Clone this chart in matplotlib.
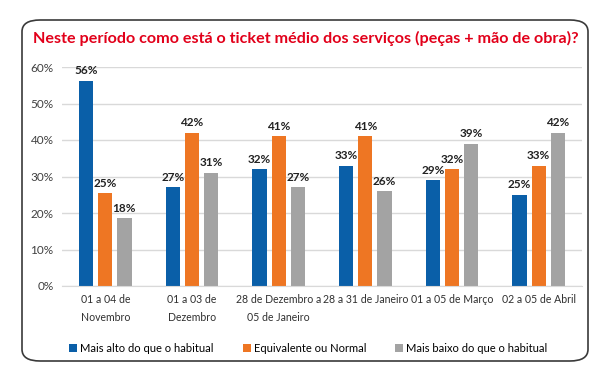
import matplotlib.pyplot as plt
import numpy as np
from matplotlib.patches import FancyBboxPatch

plt.rcParams['font.family'] = ['Lato', 'DejaVu Sans']

categories = ["01 a 04 de\nNovembro", "01 a 03 de\nDezembro", "28 de Dezembro a\n05 de Janeiro",
              "28 a 31 de Janeiro", "01 a 05 de Março", "02 a 05 de Abril"]
mais_alto = [56.2, 27, 32, 33, 29, 25]
equivalente = [25.4, 42, 41, 41, 32, 33]
mais_baixo = [18.5, 31, 27, 26, 39, 42]
series_names = ["Mais alto do que o habitual", "Equivalente ou Normal", "Mais baixo do que o habitual"]
colors = ["#0a5fa8", "#ee7623", "#a3a3a3"]
yticks = [0, 10, 20, 30, 40, 50, 60]

fig = plt.figure(figsize=(6.05, 3.87), dpi=100)

# rounded frame around whole chart
frame = FancyBboxPatch((22 / 605, 1 - 361 / 387), (588 - 22) / 605, (361 - 20) / 387,
                       boxstyle="round,pad=0,rounding_size=0.03", transform=fig.transFigure,
                       facecolor="white", edgecolor="#3a3a3a", linewidth=1.2, zorder=-1)
fig.patches.append(frame)

fig.text(0.505, 1 - 38 / 387, "Neste período como está o ticket médio dos serviços (peças + mão de obra)?",
         ha="center", va="center", color="#e2001a", fontsize=11.6, fontweight="bold")

ax = fig.add_axes([62 / 605, 1 - 286 / 387, (582 - 62) / 605, (286 - 67) / 387])
ax.patch.set_visible(False)
x = np.arange(len(categories))
w = 0.165
step = 0.22
for i, (vals, c, name) in enumerate(zip([mais_alto, equivalente, mais_baixo], colors, series_names)):
    bars = ax.bar(x + (i - 1) * step, vals, w, color=c, label=name)
    for b, v in zip(bars, vals):
        ax.text(b.get_x() + b.get_width() / 2, v + 1.2, f"{round(v)}%", ha="center", va="bottom",
                fontsize=8.5, color="#222222", fontweight="bold")

ax.set_ylim(0, 60)
ax.set_xlim(-0.5, len(categories) - 0.5)
ax.set_yticks(yticks)
ax.set_yticklabels([f"{t}%" for t in yticks], fontsize=8.5, color="#404040")
ax.set_xticks(x)
ax.set_xticklabels(categories, fontsize=7.6, color="#303030", linespacing=1.75)
ax.yaxis.grid(True, color="#d9d9d9", linewidth=1)
ax.set_axisbelow(True)
for s in ["top", "right", "left"]:
    ax.spines[s].set_visible(False)
ax.spines["bottom"].set_color("#d9d9d9")
ax.tick_params(length=0, pad=6)

fig.legend(loc="center", bbox_to_anchor=(0.51, 1 - 348 / 387), ncol=3, frameon=False,
           fontsize=8, handlelength=0.7, handleheight=0.7, handletextpad=0.3, columnspacing=2.6)

fig.savefig("out.png", dpi=100)
